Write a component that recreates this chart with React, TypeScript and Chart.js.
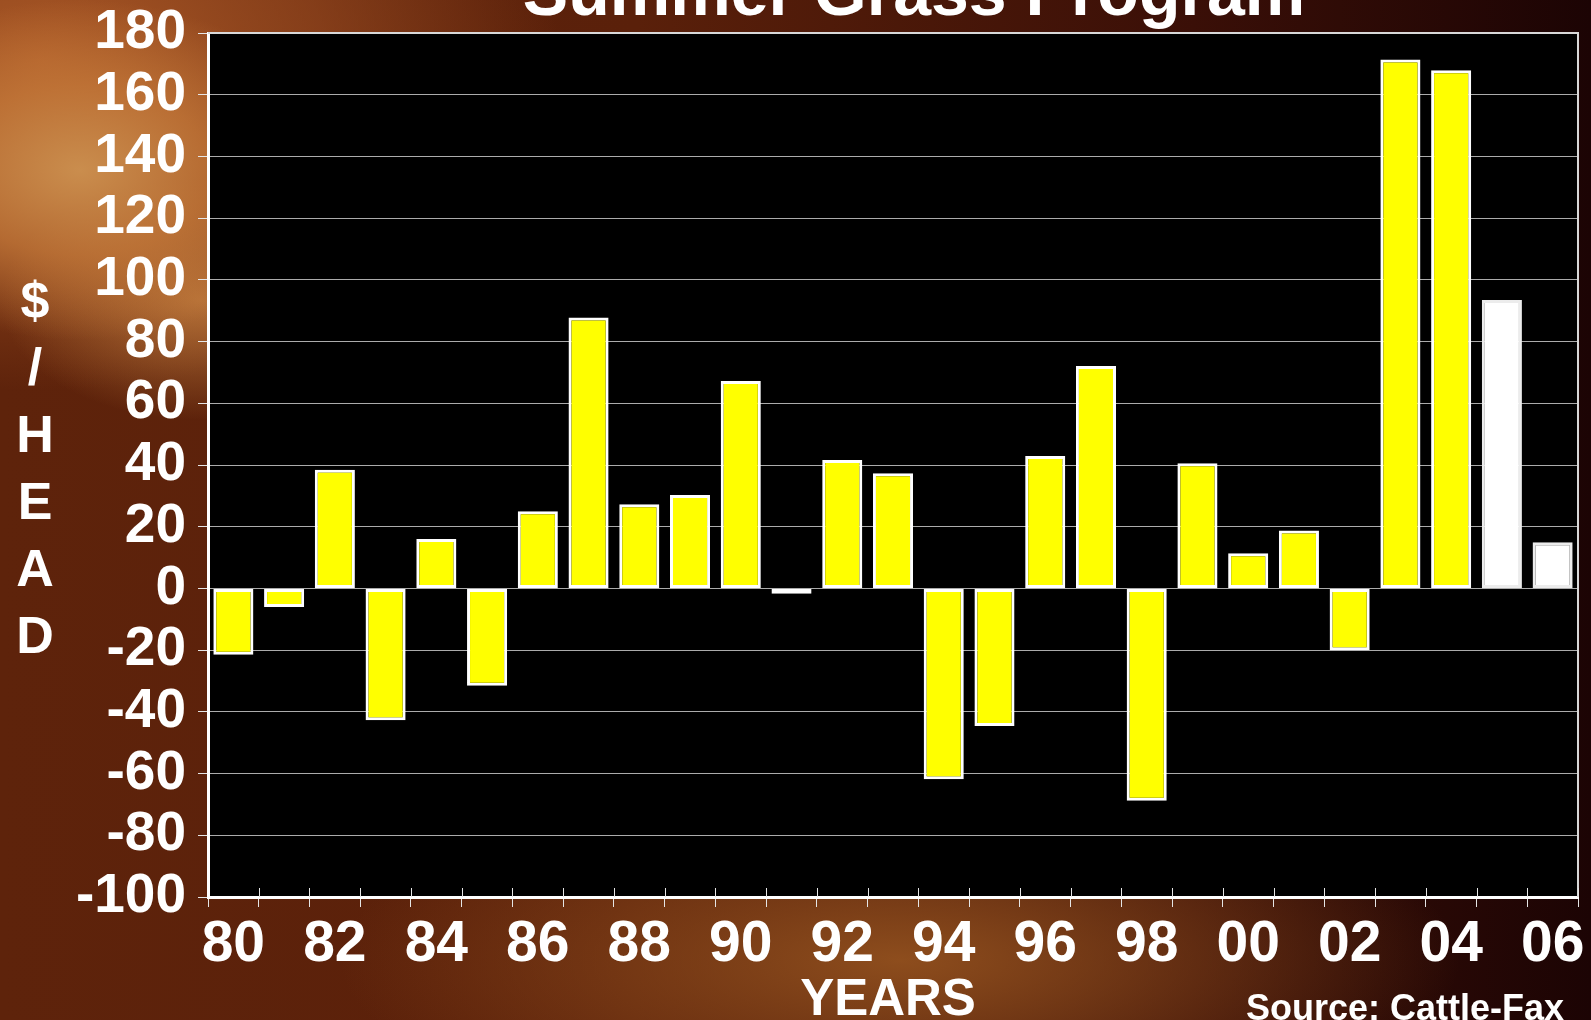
import React, { useEffect, useRef } from 'react';
import { Chart, registerables } from 'chart.js';

Chart.register(...registerables);

const years = ['80','81','82','83','84','85','86','87','88','89','90','91','92','93','94','95','96','97','98','99','00','01','02','03','04','05','06'];
const returnsPerHead = [-21.5, -6, 38.5, -42.7, 16, -31.5, 25, 87.8, 27.3, 30.3, 67.2, -1.7, 41.6, 37.3, -61.8, -44.6, 42.9, 72.1, -68.8, 40.6, 11.4, 18.8, -20, 171.4, 167.9, 93.5, 15];
const projectedYears = ['05', '06'];
const yTickMin = -100;
const yTickMax = 180;
const yTickStep = 20;
const titleText = 'Summer Grass Program';
const yTitleLetters = ['$', '/', 'H', 'E', 'A', 'D'];
const xTitleText = 'YEARS';
const sourceText = 'Source: Cattle-Fax';

const FONT = '"Liberation Sans", Arial, Helvetica, sans-serif';

const plotPlugin = {
  id: 'plotFrame',
  beforeDraw(chart: any) {
    const { ctx, chartArea: a } = chart;
    ctx.save();
    ctx.fillStyle = '#000000';
    ctx.fillRect(a.left, a.top, a.right - a.left, a.bottom - a.top);
    ctx.restore();
  },
  afterDraw(chart: any) {
    const { ctx, chartArea: a } = chart;
    const xs = chart.scales.x;
    ctx.save();
    ctx.strokeStyle = '#d8d8d8';
    ctx.lineWidth = 2;
    ctx.beginPath();
    ctx.moveTo(a.left, a.top);
    ctx.lineTo(a.right, a.top);
    ctx.lineTo(a.right, a.bottom);
    ctx.stroke();
    const n = xs.ticks.length;
    const step = (xs.right - xs.left) / n;
    ctx.strokeStyle = '#e6e6e6';
    ctx.lineWidth = 1;
    ctx.beginPath();
    for (let i = 1; i <= n; i++) {
      const x = Math.round(xs.left + i * step) + 0.5;
      ctx.moveTo(x, a.bottom - 9);
      ctx.lineTo(x, a.bottom);
    }
    ctx.stroke();
    ctx.restore();
  },
};

export default function App() {
  const ref = useRef<HTMLCanvasElement | null>(null);

  useEffect(() => {
    document.body.style.margin = '0';
    const canvas = ref.current;
    if (!canvas) return;
    const fills = years.map((y) => (projectedYears.includes(y) ? '#ffffff' : '#ffff00'));
    const borders = years.map((y) => (projectedYears.includes(y) ? '#ececec' : '#ffffff'));
    const chart = new Chart(canvas, {
      type: 'bar',
      data: {
        labels: years,
        datasets: [
          {
            label: '$/Head',
            data: returnsPerHead,
            backgroundColor: fills,
            borderColor: borders,
            borderWidth: 3,
            borderSkipped: false,
            barPercentage: 0.79,
            categoryPercentage: 1,
          },
        ],
      },
      options: {
        animation: false,
        responsive: false,
        devicePixelRatio: 1,
        layout: { padding: { top: 33, right: 13, left: 0, bottom: 0 } },
        plugins: {
          legend: { display: false },
          tooltip: { enabled: false },
          title: { display: false },
        },
        scales: {
          x: {
            afterFit: (s: any) => {
              s.height = 123;
            },
            grid: {
              offset: true,
              drawOnChartArea: false,
              drawTicks: true,
              tickLength: 10,
              color: '#e6e6e6',
              lineWidth: 1,
            },
            border: { display: true, color: '#ffffff', width: 3 },
            ticks: {
              autoSkip: false,
              maxRotation: 0,
              minRotation: 0,
              padding: 4,
              color: '#ffffff',
              font: { family: FONT, size: 57, weight: 'bold' },
              callback: (_v: any, i: number) => (i % 2 === 0 ? years[i] : ''),
            },
          },
          y: {
            min: yTickMin,
            max: yTickMax,
            afterFit: (s: any) => {
              s.width = 208;
            },
            grid: {
              color: 'rgba(190,190,190,0.9)',
              lineWidth: 1,
              tickColor: '#e6e6e6',
              tickLength: 10,
            },
            border: { display: true, color: '#ffffff', width: 3 },
            ticks: {
              stepSize: yTickStep,
              autoSkip: false,
              padding: 12,
              color: '#ffffff',
              font: { family: FONT, size: 55, weight: 'bold', lineHeight: 0.6 },
            },
          },
        },
      },
      plugins: [plotPlugin],
    });
    return () => chart.destroy();
  }, []);

  const textBase: React.CSSProperties = {
    position: 'absolute',
    color: '#ffffff',
    fontFamily: FONT,
    fontWeight: 'bold',
    whiteSpace: 'nowrap',
  };

  return (
    <div
      style={{
        position: 'fixed',
        left: 0,
        top: 0,
        width: 1591,
        height: 1020,
        overflow: 'hidden',
        background:
          'radial-gradient(ellipse 260px 170px at 80px 170px, rgba(205,145,80,0.95) 0%, rgba(200,125,60,0.7) 50%, rgba(0,0,0,0) 100%),' +
          'radial-gradient(ellipse 200px 120px at 200px 300px, rgba(200,130,65,0.8) 0%, rgba(0,0,0,0) 100%),' +
          'radial-gradient(ellipse 520px 330px at 40px 60px, rgba(175,92,40,0.95) 0%, rgba(160,80,35,0.6) 55%, rgba(0,0,0,0) 100%),' +
          'radial-gradient(ellipse 560px 180px at 900px 960px, rgba(145,80,30,0.95) 0%, rgba(0,0,0,0) 100%),' +
          'linear-gradient(90deg, #5e230b 0%, #5a200a 40%, #3a0f07 75%, #1c0404 100%)',
      }}
    >
      <canvas ref={ref} width={1591} height={1020} style={{ position: 'absolute', left: 0, top: 0 }} />
      <div style={{ ...textBase, left: 914, top: -42.6, fontSize: 68, lineHeight: '68px', transform: 'translateX(-50%)' }}>
        {titleText}
      </div>
      <div
        style={{
          ...textBase,
          left: 35,
          top: 266.5,
          fontSize: 52,
          lineHeight: '67px',
          textAlign: 'center',
          transform: 'translateX(-50%)',
        }}
      >
        {yTitleLetters.map((ch, i) => (
          <div key={i}>{ch}</div>
        ))}
      </div>
      <div style={{ ...textBase, left: 888, top: 971.8, fontSize: 51, lineHeight: '51px', transform: 'translateX(-50%)' }}>
        {xTitleText}
      </div>
      <div style={{ ...textBase, right: 1591 - 1564, top: 990.3, fontSize: 36, lineHeight: '36px' }}>
        {sourceText}
      </div>
    </div>
  );
}
